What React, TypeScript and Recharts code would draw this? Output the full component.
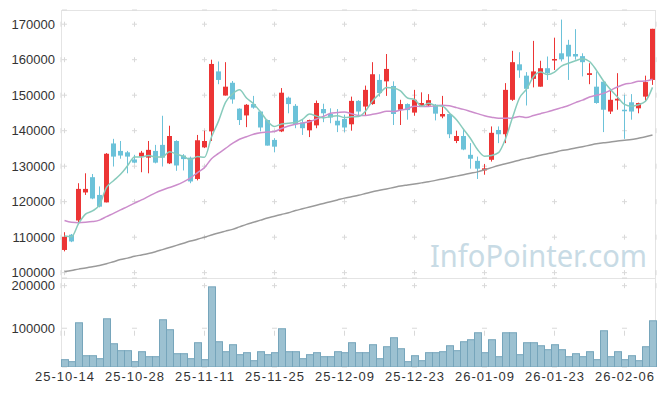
import { ComposedChart, Bar, Line, XAxis, YAxis, CartesianGrid } from 'recharts'

// 거래일 (YY-MM-DD)
const dates = [
  '25-10-14', '25-10-15', '25-10-16', '25-10-17', '25-10-20', '25-10-21', '25-10-22', '25-10-23', '25-10-24', '25-10-27',
  '25-10-28', '25-10-29', '25-10-30', '25-10-31', '25-11-03', '25-11-04', '25-11-05', '25-11-06', '25-11-07', '25-11-10',
  '25-11-11', '25-11-12', '25-11-13', '25-11-14', '25-11-17', '25-11-18', '25-11-19', '25-11-20', '25-11-21', '25-11-24',
  '25-11-25', '25-11-26', '25-11-27', '25-11-28', '25-12-01', '25-12-02', '25-12-03', '25-12-04', '25-12-05', '25-12-08',
  '25-12-09', '25-12-10', '25-12-11', '25-12-12', '25-12-15', '25-12-16', '25-12-17', '25-12-18', '25-12-19', '25-12-22',
  '25-12-23', '25-12-24', '25-12-26', '25-12-29', '25-12-30', '26-01-02', '26-01-05', '26-01-06', '26-01-07', '26-01-08',
  '26-01-09', '26-01-12', '26-01-13', '26-01-14', '26-01-15', '26-01-16', '26-01-19', '26-01-20', '26-01-21', '26-01-22',
  '26-01-23', '26-01-26', '26-01-27', '26-01-28', '26-01-29', '26-01-30', '26-02-02', '26-02-03', '26-02-04', '26-02-05',
  '26-02-06', '26-02-09', '26-02-10', '26-02-11', '26-02-12',
]

const opens = [
  106400, 110700, 114700, 122600, 126900, 121900, 119800, 136400, 134300, 133900,
  131900, 132700, 132400, 134300, 136000, 130800, 137100, 133000, 132400, 126400,
  135300, 139800, 156700, 149900, 153500, 146200, 144300, 147500, 145400, 143000,
  137400, 139800, 149300, 147000, 142300, 140100, 141500, 146100, 144700, 142800,
  143300, 141800, 148400, 146800, 147500, 154300, 153900, 152600, 145900, 147500,
  145100, 146800, 147100, 147300, 144000, 144700, 137100, 138500, 133200, 131500,
  128800, 131800, 140200, 139000, 148700, 158700, 155500, 154600, 152400, 157600,
  159800, 161800, 164200, 161600, 161000, 155700, 152400, 153800, 145400, 148500,
  145900, 148000, 146300, 149600, 154300,
]

const highs = [
  111400, 110900, 125200, 128000, 127800, 124300, 133700, 137700, 137100, 134300,
  133200, 134300, 137100, 136000, 144200, 141400, 137300, 133400, 132700, 138800,
  140000, 160000, 159500, 159300, 154000, 146300, 147500, 149800, 145600, 143100,
  137900, 152000, 149600, 147500, 143100, 143100, 148500, 147600, 146300, 146100,
  144500, 149600, 148600, 152700, 159300, 155900, 161600, 153900, 148700, 147700,
  151500, 150800, 150300, 147500, 149800, 144800, 140000, 140200, 136500, 132700,
  130600, 141200, 141200, 153400, 162500, 162100, 156500, 165300, 159700, 160900,
  166200, 171300, 165600, 168600, 161800, 159000, 156700, 154000, 151800, 156200,
  150100, 150300, 147900, 155500, 168700,
]

const lows = [
  106000, 108600, 113900, 121900, 120700, 118400, 119800, 129900, 132100, 128000,
  130800, 128300, 128000, 130800, 129900, 130600, 128700, 128800, 125200, 126000,
  135100, 137100, 153100, 149900, 147600, 141600, 141000, 146200, 139800, 135800,
  133900, 139600, 144900, 140700, 138800, 138200, 140700, 142400, 142100, 139600,
  139600, 140000, 144000, 144200, 147300, 149600, 149800, 141600, 141600, 143100,
  144200, 146700, 146700, 142900, 143500, 137900, 136500, 134500, 129300, 126400,
  127600, 131300, 136500, 136500, 148400, 154900, 147100, 152200, 152400, 154300,
  157100, 159500, 154300, 160000, 155300, 153100, 147600, 139600, 144700, 145900,
  137700, 143100, 144900, 148400, 152900,
]

const closes = [
  110100, 108800, 123600, 123600, 120900, 118600, 133500, 132700, 133000, 132700,
  131000, 133800, 134600, 131000, 132400, 138500, 130200, 132000, 125700, 137300,
  137100, 158800, 154300, 152400, 148800, 143000, 147300, 146500, 140900, 135800,
  135500, 150700, 147500, 141800, 140700, 143000, 147800, 144900, 143700, 141500,
  140900, 148400, 145400, 151500, 155900, 150600, 157400, 144700, 147500, 145800,
  148700, 147800, 148600, 144800, 144700, 139000, 138500, 134700, 132100, 129300,
  129400, 139400, 139000, 151500, 159300, 157000, 151800, 156700, 157600, 156200,
  160200, 160100, 160900, 160900, 159300, 156200, 147800, 145900, 148700, 149000,
  145600, 145400, 147800, 153700, 168700,
]

const volumes = [
  27400, 22700, 114000, 36700, 36700, 29700, 123400, 64800, 48500, 48500,
  22700, 46100, 34400, 34400, 121100, 97700, 41400, 41400, 29700, 67200,
  27400, 198400, 69500, 46100, 62500, 39100, 43800, 25000, 46100, 39100,
  43800, 100000, 46100, 46100, 29700, 39100, 43800, 34400, 34400, 46100,
  43800, 67200, 43800, 43800, 62500, 29700, 57800, 78900, 53100, 22700,
  36700, 25000, 43800, 43800, 46100, 60100, 48500, 69500, 74200, 90600,
  43800, 74200, 34400, 90600, 90600, 39100, 67200, 67200, 60100, 50800,
  62500, 50800, 34400, 41400, 34400, 46100, 27400, 95300, 34400, 46100,
  27400, 36700, 25000, 57800, 118700,
]

const ma5 = [
  110300, 110100, 113800, 116500, 117400, 119100, 124000, 125900, 127700, 130100,
  132600, 132600, 133000, 132600, 132600, 134100, 133400, 132800, 131800, 132700,
  132500, 138200, 142700, 148000, 150300, 151500, 149200, 147600, 145300, 142700,
  141200, 141900, 142100, 142300, 143200, 144700, 144100, 143600, 144000, 144200,
  143700, 143900, 144000, 145500, 148400, 150400, 152200, 152000, 151200, 149200,
  148800, 146900, 147700, 147100, 146900, 145000, 143100, 140400, 137800, 134700,
  132800, 133000, 133800, 137700, 143700, 149200, 151700, 155200, 156500, 155800,
  156500, 158200, 159000, 159700, 160300, 159500, 157000, 154000, 151600, 149500,
  147400, 146900, 147300, 148300, 152200,
]

const ma20 = [
  114700, 114200, 114100, 114200, 114400, 114800, 115800, 116700, 117700, 118600,
  119600, 120500, 121500, 122500, 123300, 124000, 124700, 125600, 126700, 128200,
  129600, 132100, 133600, 135000, 136400, 137600, 138300, 139000, 139400, 139600,
  139800, 140600, 141300, 141800, 142200, 142500, 143300, 144000, 144900, 145100,
  145300, 144800, 144300, 144300, 144600, 145000, 145500, 145400, 145800, 146200,
  146900, 146800, 146800, 147000, 147200, 147000, 146500, 146000, 145400, 144800,
  144200, 143800, 143500, 143500, 143600, 144000, 143700, 144300, 144800, 145300,
  145900, 146500, 147100, 147900, 148600, 149500, 150000, 150500, 151400, 152300,
  153100, 153400, 153900, 154000, 154500,
]

const ma60 = [
  100300, 100600, 101000, 101300, 101700, 102000, 102500, 103100, 103700, 104100,
  104600, 105000, 105400, 105900, 106500, 107100, 107700, 108300, 108900, 109400,
  110000, 110600, 111200, 111700, 112200, 112900, 113600, 114200, 114800, 115400,
  115900, 116400, 116900, 117500, 118000, 118500, 119000, 119500, 120000, 120500,
  121000, 121400, 121800, 122300, 122800, 123200, 123600, 124000, 124400, 124700,
  125000, 125300, 125600, 126000, 126400, 126800, 127200, 127600, 128000, 128400,
  129000, 129600, 130200, 130700, 131200, 131700, 132200, 132600, 133100, 133500,
  133900, 134400, 134700, 135100, 135500, 135900, 136300, 136600, 136800, 137100,
  137300, 137500, 137900, 138300, 138800,
]

const priceTicks = [100000, 110000, 120000, 130000, 140000, 150000, 160000, 170000]
const volumeTicks = [100000, 200000]
const dateTicks = ['25-10-14', '25-10-28', '25-11-11', '25-11-25', '25-12-09', '25-12-23', '26-01-09', '26-01-23', '26-02-06']

const data = dates.map((date, i) => ({
  date,
  open: opens[i],
  high: highs[i],
  low: lows[i],
  close: closes[i],
  volume: volumes[i],
  ma5: ma5[i],
  ma20: ma20[i],
  ma60: ma60[i],
}))

const UP = '#ec3535'
const DOWN = '#6cc2d9'
const FONT = '"Liberation Sans", Arial, sans-serif'
const GRID = '#d9d9d9'

function Candle(props: any) {
  const { x, y, width, height, payload } = props
  const { open, close, high, low } = payload
  const ratio = height / (high - low)
  const yOf = (v: number) => y + (high - v) * ratio
  const color = close >= open ? UP : DOWN
  const cx = x + width / 2
  const top = yOf(Math.max(open, close))
  const bottom = yOf(Math.min(open, close))
  return (
    <g>
      <line x1={cx} x2={cx} y1={y} y2={y + height} stroke={color} strokeWidth={1} />
      <rect x={x} y={top} width={width} height={Math.max(bottom - top, 1.5)} fill={color} />
    </g>
  )
}

function VolumeBar(props: any) {
  const { x, y, width, height } = props
  return (
    <rect
      x={x + 0.5}
      y={y + 0.5}
      width={width}
      height={Math.max(height - 0.5, 0)}
      fill="#9cc1d1"
      stroke="#76a5bb"
      strokeWidth={1}
    />
  )
}

function DateTick({ x, y, payload }: any) {
  return (
    <text
      x={x}
      y={y}
      dy="0.71em"
      textAnchor="middle"
      fontSize={13}
      fill="#333"
      fontFamily={FONT}
      textLength={59}
      lengthAdjust="spacing"
    >
      {payload.value}
    </text>
  )
}

const yTick = { fontSize: 13, fill: '#333', fontFamily: FONT }

export default function App() {
  return (
    <div style={{ position: 'absolute', left: 0, top: 0, width: 665, height: 396, background: '#fff' }}>
      {/* 차트 테두리 */}
      <div style={{ position: 'absolute', left: 61, top: 10, width: 595, height: 269, border: '1px solid #e4e4e4', boxSizing: 'border-box' }} />
      <div style={{ position: 'absolute', left: 61, top: 278, width: 595, height: 89, borderLeft: '1px solid #e4e4e4', borderRight: '1px solid #e4e4e4', boxSizing: 'border-box' }} />

      <svg width={665} height={396} style={{ position: 'absolute', left: 0, top: 0 }}>
        <text x={430} y={267} fontSize={30} fill="#c8dbe5" fontFamily='"Noto Sans", sans-serif' textLength={217} lengthAdjust="spacingAndGlyphs">
          InfoPointer.com
        </text>
      </svg>

      <div style={{ position: 'absolute', left: 0, top: 278 }}>
        <ComposedChart width={665} height={118} data={data} margin={{ top: 0, right: 9, left: 0, bottom: 0 }} barCategoryGap={0}>
          <CartesianGrid vertical={false} stroke={GRID} strokeDasharray="0 1 5 64" />
          <CartesianGrid horizontal={false} stroke={GRID} strokeDasharray="0 5.165 5 37.419" />
          <XAxis
            dataKey="date"
            ticks={dateTicks}
            interval={0}
            height={29}
            axisLine={false}
            tickLine={false}
            tickSize={0}
            tickMargin={5}
            tick={<DateTick />}
          />
          <YAxis
            width={61}
            domain={[9000, 218000]}
            allowDataOverflow
            ticks={volumeTicks}
            interval={0}
            axisLine={false}
            tickLine={false}
            tickSize={0}
            tickMargin={6}
            tick={yTick}
          />
          <Bar dataKey="volume" shape={<VolumeBar />} isAnimationActive={false} />
        </ComposedChart>
      </div>

      {/* 가격 차트: 아래 여백을 두어 100000 라벨이 잘리지 않게 함 */}
      <div style={{ position: 'absolute', left: 0, top: 0 }}>
        <ComposedChart width={665} height={290} data={data} margin={{ top: 10, right: 9, left: 0, bottom: 12 }}>
          <CartesianGrid vertical={false} stroke={GRID} strokeDasharray="0 1 5 64" />
          <CartesianGrid horizontal={false} stroke={GRID} strokeDasharray="0 11.7 5 18.797" />
          <XAxis dataKey="date" hide ticks={dateTicks} interval={0} />
          <YAxis
            width={61}
            domain={[98500, 174000]}
            allowDataOverflow
            ticks={priceTicks}
            interval={0}
            axisLine={false}
            tickLine={false}
            tickSize={0}
            tickMargin={6}
            tick={yTick}
          />
          <Bar dataKey={(d: any) => [d.low, d.high]} barSize={5} shape={<Candle />} isAnimationActive={false} />
          <Line type="monotone" dataKey="ma60" stroke="#9a9a9a" strokeWidth={1.5} dot={false} isAnimationActive={false} />
          <Line type="monotone" dataKey="ma20" stroke="#cc8dcc" strokeWidth={1.5} dot={false} isAnimationActive={false} />
          <Line type="monotone" dataKey="ma5" stroke="#88cbbc" strokeWidth={1.5} dot={false} isAnimationActive={false} />
        </ComposedChart>
      </div>
    </div>
  )
}
